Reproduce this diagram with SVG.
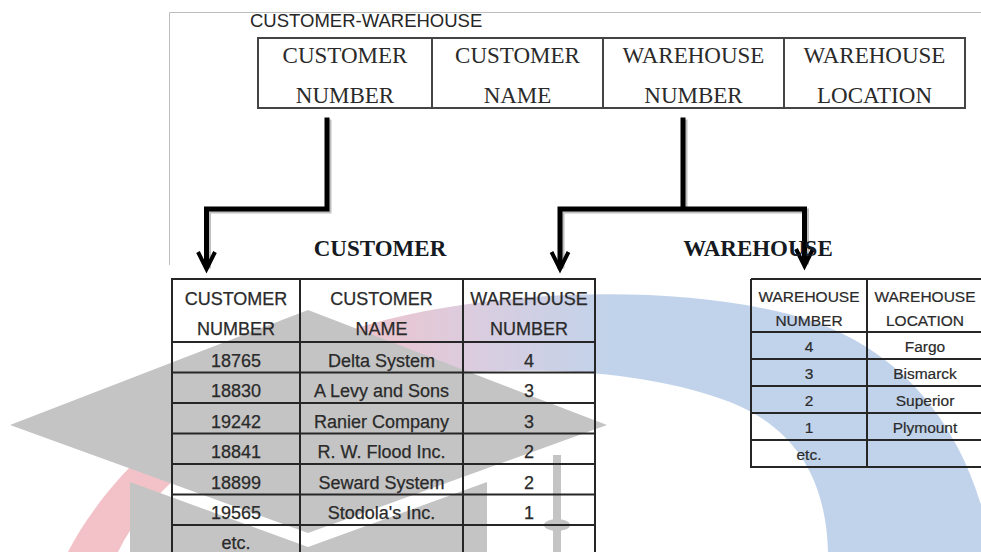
<svg xmlns="http://www.w3.org/2000/svg" width="981" height="552" viewBox="0 0 981 552">
  <defs>
    <linearGradient id="ringFill" gradientUnits="userSpaceOnUse" x1="330" y1="0" x2="610" y2="0">
      <stop offset="0" stop-color="#f2c2c8"/>
      <stop offset="0.55" stop-color="#d9cde0"/>
      <stop offset="1" stop-color="#c1d3ea"/>
    </linearGradient>
    <style>
      .frame { stroke: #bdbdbd; stroke-width: 1; fill: none; }
      .grid { stroke: #262626; stroke-width: 2; fill: none; }
      .topgrid { stroke: #444; stroke-width: 2; fill: none; }
      .serif { font-family: "Liberation Serif", "Times New Roman", serif; font-size: 23px; fill: #2a2a2a; text-anchor: middle; }
      .label { font-family: "Liberation Serif", "Times New Roman", serif; font-size: 23px; font-weight: bold; fill: #151a22; text-anchor: middle; }
      .title { font-family: "Liberation Sans", Arial, sans-serif; font-size: 18.5px; fill: #262626; }
      .cell { font-family: "Liberation Sans", Arial, sans-serif; font-size: 18px; fill: #2a2a2a; stroke: #2a2a2a; stroke-width: 0.25; text-anchor: middle; }
      .wcell { font-family: "Liberation Sans", Arial, sans-serif; font-size: 15.5px; fill: #2a2a2a; stroke: #2a2a2a; stroke-width: 0.2; text-anchor: middle; }
      .link { stroke: #000; stroke-width: 5; fill: none; stroke-linejoin: miter; stroke-linecap: square; }
      .shadow { stroke: #8a8a8a; stroke-width: 5; fill: none; opacity: 0.55; stroke-linecap: square; }
      .head { stroke: #000; stroke-width: 4; fill: none; stroke-linejoin: miter; }
    </style>
  </defs>

  <rect width="981" height="552" fill="#ffffff"/>

  <!-- background emblem: ring, mortarboard and tassel -->
  <g id="emblem">
    <path d="M 68 552 C 110 470 210 378 350 330 C 480 288 690 280 815 322 C 920 360 975 450 992 552 L 828 552 C 826 478 795 428 730 402 C 650 372 560 368 470 372 C 300 385 165 455 118 552 Z" fill="url(#ringFill)"/>
    <polygon points="10,425 308,310 607,425 308,533" fill="#c4c4c4"/>
    <polygon points="130,482 308,547 487,482 487,560 130,560" fill="#c4c4c4"/>
    <rect x="553" y="455" width="8" height="100" fill="#c4c4c4"/>
    <ellipse cx="557" cy="525" rx="13" ry="6" fill="#c4c4c4"/>
  </g>

  <!-- page frame -->
  <path class="frame" d="M 169.5 265 V 12.5 H 981"/>

  <!-- combined relation -->
  <g id="customer-warehouse">
    <text class="title" x="250" y="27">CUSTOMER-WAREHOUSE</text>
    <rect class="topgrid" x="258" y="38" width="707" height="70"/>
    <path class="topgrid" d="M 432 38 V 108 M 603 38 V 108 M 784 38 V 108"/>
    <text class="serif" x="345" y="63">CUSTOMER</text>
    <text class="serif" x="345" y="103">NUMBER</text>
    <text class="serif" x="517.5" y="63">CUSTOMER</text>
    <text class="serif" x="517.5" y="103">NAME</text>
    <text class="serif" x="693.5" y="63">WAREHOUSE</text>
    <text class="serif" x="693.5" y="103">NUMBER</text>
    <text class="serif" x="874.5" y="63">WAREHOUSE</text>
    <text class="serif" x="874.5" y="103">LOCATION</text>
  </g>

  <!-- decomposition arrows -->
  <g id="connectors">
    <path class="shadow" d="M 329 122 V 211 H 208.5 V 266"/>
    <path class="shadow" d="M 685 122 V 211 M 562 266 V 211 H 806.5 V 262"/>
    <path class="link" d="M 327 120 V 209 H 206.5 V 266"/>
    <path class="link" d="M 683 120 V 209 M 560 266 V 209 H 804.5 V 262"/>
    <path class="head" d="M 198 252 L 206.5 269 L 215 252"/>
    <path class="head" d="M 551.5 252 L 560 269 L 568.5 252"/>
    <path class="head" d="M 796 249 L 804.5 266 L 813 249"/>
  </g>

  <!-- CUSTOMER relation -->
  <g id="customer">
    <text class="label" x="380" y="256">CUSTOMER</text>
    <path class="grid" d="M 172 600 V 279 H 595 V 600 M 300 279 V 600 M 463 279 V 600"/>
    <path class="grid" d="M 172 342 H 595 M 172 372.5 H 595 M 172 403 H 595 M 172 433.5 H 595 M 172 464 H 595 M 172 494.5 H 595 M 172 525 H 595"/>
    <text class="cell" x="236" y="305">CUSTOMER</text>
    <text class="cell" x="236" y="335">NUMBER</text>
    <text class="cell" x="381.5" y="305">CUSTOMER</text>
    <text class="cell" x="381.5" y="335">NAME</text>
    <text class="cell" x="529" y="305">WAREHOUSE</text>
    <text class="cell" x="529" y="335">NUMBER</text>
    <text class="cell" x="236" y="366.5">18765</text>
    <text class="cell" x="381.5" y="366.5">Delta System</text>
    <text class="cell" x="529" y="366.5">4</text>
    <text class="cell" x="236" y="397">18830</text>
    <text class="cell" x="381.5" y="397">A Levy and Sons</text>
    <text class="cell" x="529" y="397">3</text>
    <text class="cell" x="236" y="427.5">19242</text>
    <text class="cell" x="381.5" y="427.5">Ranier Company</text>
    <text class="cell" x="529" y="427.5">3</text>
    <text class="cell" x="236" y="458">18841</text>
    <text class="cell" x="381.5" y="458">R. W. Flood Inc.</text>
    <text class="cell" x="529" y="458">2</text>
    <text class="cell" x="236" y="488.5">18899</text>
    <text class="cell" x="381.5" y="488.5">Seward System</text>
    <text class="cell" x="529" y="488.5">2</text>
    <text class="cell" x="236" y="519">19565</text>
    <text class="cell" x="381.5" y="519">Stodola's Inc.</text>
    <text class="cell" x="529" y="519">1</text>
    <text class="cell" x="236" y="549">etc.</text>
  </g>

  <!-- WAREHOUSE relation -->
  <g id="warehouse">
    <text class="label" x="758" y="256">WAREHOUSE</text>
    <path class="grid" d="M 751 279 H 990 M 751 279 V 467 H 990 M 867 279 V 467"/>
    <path class="grid" d="M 751 332 H 990 M 751 359 H 990 M 751 386 H 990 M 751 413 H 990 M 751 440 H 990"/>
    <text class="wcell" x="809" y="302">WAREHOUSE</text>
    <text class="wcell" x="809" y="326">NUMBER</text>
    <text class="wcell" x="925" y="302">WAREHOUSE</text>
    <text class="wcell" x="925" y="326">LOCATION</text>
    <text class="wcell" x="809" y="352">4</text>
    <text class="wcell" x="925" y="352">Fargo</text>
    <text class="wcell" x="809" y="379">3</text>
    <text class="wcell" x="925" y="379">Bismarck</text>
    <text class="wcell" x="809" y="406">2</text>
    <text class="wcell" x="925" y="406">Superior</text>
    <text class="wcell" x="809" y="433">1</text>
    <text class="wcell" x="925" y="433">Plymount</text>
    <text class="wcell" x="809" y="460">etc.</text>
  </g>
</svg>
